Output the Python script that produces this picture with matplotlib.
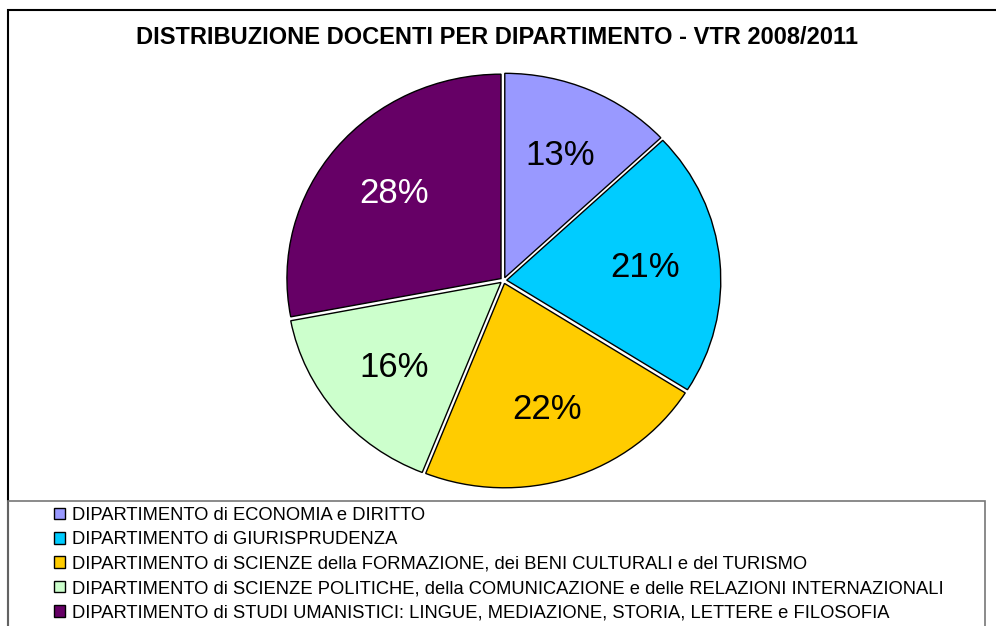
import matplotlib.pyplot as plt
from matplotlib.patches import Patch, Rectangle

plt.rcParams['font.family'] = ['Liberation Sans', 'DejaVu Sans']

# data
departments = [
    'DIPARTIMENTO di ECONOMIA e DIRITTO',
    'DIPARTIMENTO di GIURISPRUDENZA',
    'DIPARTIMENTO di SCIENZE della FORMAZIONE, dei BENI CULTURALI e del TURISMO',
    'DIPARTIMENTO di SCIENZE POLITICHE, della COMUNICAZIONE e delle RELAZIONI INTERNAZIONALI',
    'DIPARTIMENTO di STUDI UMANISTICI: LINGUE, MEDIAZIONE, STORIA, LETTERE e FILOSOFIA',
]
shares = [13, 21, 22, 16, 28]
colors = ['#9999FF', '#00CCFF', '#FFCC00', '#CCFFCC', '#660066']
pct_colors = ['black', 'black', 'black', 'black', 'white']

W, H = 996, 626
fig = plt.figure(figsize=(W / 100, H / 100), dpi=100)

# outer chart border (cropped at right/bottom in the original)
fig.add_artist(Rectangle((8 / W, -0.05), 1.1, 1 - 10 / H + 0.05, transform=fig.transFigure,
                         fill=False, edgecolor='black', linewidth=1.5))
# legend box
fig.add_artist(Rectangle((8 / W, -0.05), (985 - 8) / W, 1 - 501 / H + 0.05, transform=fig.transFigure,
                         fill=False, edgecolor='#777777', linewidth=1.2))

fig.text(497 / W, 1 - 37 / H, 'DISTRIBUZIONE DOCENTI PER DIPARTIMENTO - VTR 2008/2011',
         ha='center', va='center', fontsize=17, fontweight='bold')

# pie axes (slightly wider than tall, like the original)
ax = fig.add_axes([283 / W, 1 - 491 / H, 441 / W, 421 / H])
wedges, texts, autotexts = ax.pie(shares, colors=colors, startangle=90, counterclock=False,
                                  explode=[0.015] * 5, autopct='%d%%', pctdistance=0.65,
                                  wedgeprops=dict(edgecolor='black', linewidth=1),
                                  textprops=dict(fontsize=25))
for t, c in zip(autotexts, pct_colors):
    t.set_color(c)
ax.set_aspect('auto')
ax.set_xlim(-1.03, 1.03)
ax.set_ylim(-1.03, 1.03)
ax.axis('off')

handles = [Patch(facecolor=c, edgecolor='black', linewidth=1) for c in colors]
fig.legend(handles, departments, loc='upper left', bbox_to_anchor=(54 / W, 1 - 507 / H),
           frameon=False, fontsize=13.2, handlelength=0.6, handleheight=0.6,
           handletextpad=0.4, labelspacing=0.4, borderpad=0, borderaxespad=0)

plt.savefig('out.png', dpi=100)
